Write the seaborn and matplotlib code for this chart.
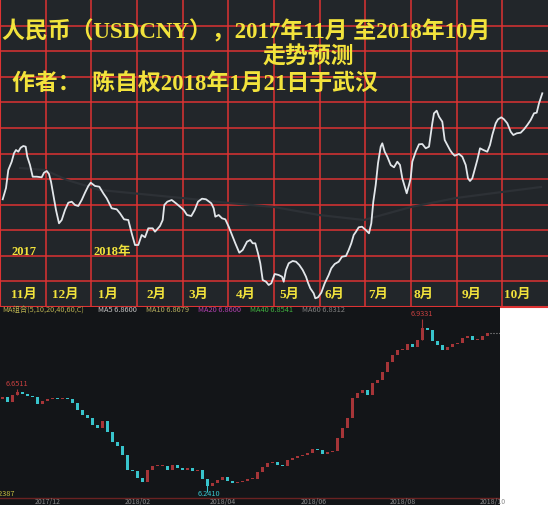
import matplotlib
matplotlib.use('Agg')
import matplotlib.pyplot as plt
import seaborn as sns
import numpy as np

# top panel: forecast line (x along the panel, level above the bottom edge)
line_x = [2.7, 6, 8.3, 11.7, 14, 16, 18.3, 20.7, 23.3, 25.7, 27.3, 30, 32.7, 36.7, 41.7, 44, 46.7, 49, 51, 53.3,
          56, 59, 61.7, 65, 68.3, 71.7, 75, 78.3, 81.7, 85, 88.3, 90.7, 95, 99.3, 103.3, 106.7, 111.7, 116.7, 120, 124,
          128.3, 131.7, 135, 138.3, 141.7, 145, 148.3, 152.7, 155, 160, 162.7, 164.3, 167.3, 171.7, 176, 180, 183.7,
          187, 191.3, 194.7, 198, 202, 206, 211.3, 213.7, 215.3, 218.7, 222, 225.3, 228.7, 232, 235.3, 239.3, 242.7,
          247, 250.3, 252.7, 255.3, 258, 260.3, 262.7, 266, 268.7, 271.3, 274.7, 278.7, 282, 283.7, 286, 288.7, 292.7,
          296, 299.3, 302.7, 306, 308, 310.3, 313.7, 315.3, 318, 321.3, 324.7, 328.7, 331.3, 334.7, 338.7, 342, 346,
          348.7, 351.3, 353.7, 356, 358.7, 362, 365.7, 369, 371.3, 373.3, 375.7, 378, 380.7, 382.3, 384.7, 387.3,
          390.7, 394, 397.3, 400, 402.3, 404.7, 406.7, 409, 410.7, 412.3, 415.7, 419, 422.3, 425.7, 429, 432.3, 434,
          436.7, 439, 442.3, 444.7, 447.3, 450, 452.3, 454.7, 459, 462.3, 465.7, 468, 470, 472.3, 475, 477.3, 480,
          483.3, 487.3, 490, 492.3, 495.7, 498, 501.3, 504, 507.3, 510.7, 513.3, 516.7, 520.7, 524, 527.3, 530.7, 534,
          536.7, 539, 542.3]
line_level = [107.7, 119, 137, 145.3, 153.7, 157, 155.3, 159.3, 161, 160.3, 150.3, 142, 130.3, 130.3, 129.7, 134.3,
              136, 133, 125.3, 112, 97, 83.7, 87, 97, 104.3, 105.3, 102, 101, 107, 114.3, 121, 124.3, 121, 120.3, 113.7,
              108.7, 98.7, 97.7, 93.7, 87.7, 87, 73.7, 62, 62, 72, 69.7, 78.7, 78.7, 75.3, 81, 87, 102, 105.3, 107,
              103.7, 100.3, 97, 92, 91, 97, 105.3, 108.3, 107.7, 103.7, 98.7, 90.3, 92, 88.7, 87.7, 80.3, 72, 63.7,
              54.3, 57, 65.3, 67, 63.7, 63.7, 53.7, 43.7, 27, 25.3, 22, 23.7, 33, 32, 30.3, 25.3, 37, 43.7, 46, 45.3,
              42, 37, 30.3, 24.3, 18.7, 13.7, 8.7, 9.7, 14.3, 23.7, 32, 38.7, 43, 45.3, 50.3, 51, 57, 63.7, 72, 75.3,
              79.7, 80.3, 77, 73.7, 83.7, 105.3, 122, 143.7, 160.3, 163.7, 155.3, 150.3, 142, 139.7, 145.3, 142, 128.7,
              120.3, 113.7, 122, 128.7, 145.3, 155.3, 162.7, 163, 158.7, 160.3, 183.7, 193.7, 196.3, 190.3, 185.3, 167,
              162, 157, 153.7, 151.3, 153, 150.3, 142, 128.7, 126, 128.7, 138.7, 147, 158.7, 157, 155.3, 162, 172,
              183.7, 187.7, 189.7, 187.7, 183.7, 175.3, 172, 173.7, 174.3, 177.7, 182, 187, 193.7, 194.3, 203.7, 213.7]
ma_x = [20, 45, 67, 100, 182, 229, 274, 319, 364, 411, 456, 502, 541]
ma_level = [139, 137, 127, 117, 109, 104, 100, 92, 87, 100, 109, 115, 120]
months = ['11月', '12月', '1月', '2月', '3月', '4月', '5月', '6月', '7月', '8月', '9月', '10月']
month_x = [23.5, 65, 108, 156, 198, 246, 289, 334, 378, 424, 472, 517]

# bottom panel: USDCNY candles (closes), plus the marked extremes
closes = [6.621, 6.600, 6.629, 6.641, 6.633, 6.625, 6.621, 6.592, 6.604, 6.612, 6.617, 6.612, 6.617, 6.612, 6.596,
          6.568, 6.548, 6.536, 6.508, 6.496, 6.524, 6.480, 6.440, 6.424, 6.388, 6.328, 6.324, 6.296, 6.280, 6.328,
          6.344, 6.344, 6.344, 6.328, 6.348, 6.336, 6.328, 6.336, 6.324, 6.328, 6.292, 6.264, 6.276, 6.288, 6.300,
          6.284, 6.276, 6.280, 6.284, 6.292, 6.292, 6.320, 6.340, 6.356, 6.360, 6.348, 6.344, 6.368, 6.376, 6.384,
          6.388, 6.396, 6.412, 6.408, 6.392, 6.400, 6.404, 6.456, 6.496, 6.536, 6.617, 6.637, 6.649, 6.629, 6.677,
          6.689, 6.721, 6.761, 6.789, 6.809, 6.809, 6.833, 6.821, 6.849, 6.897, 6.889, 6.845, 6.829, 6.809, 6.821,
          6.833, 6.837, 6.857, 6.865, 6.849, 6.849, 6.865, 6.877]
first_open = 6.612
mark_idx = [3, 41, 84]
mark_val = [6.6511, 6.2410, 6.9331]
mark_text = ['6.6511', '6.2410', '6.9331']
date_idx = [9.2, 27.2, 44.2, 62.4, 80.2, 98.2]
date_labels = ['2017/12', '2018/02', '2018/04', '2018/06', '2018/08', '2018/10']
ma_names = ['MA组合(5,10,20,40,60,C)', 'MA5 6.8600', 'MA10 6.8679', 'MA20 6.8600', 'MA40 6.8541', 'MA60 6.8312']
ma_colors = ['#b8b050', '#c4c4c4', '#b8b060', '#b040b0', '#40b040', '#808080']
ma_pos = [0.004, 0.196, 0.292, 0.396, 0.5, 0.604]

plt.rcParams['font.family'] = ['Liberation Serif', 'Noto Sans CJK SC', 'DejaVu Sans']
YEL = '#f2e33c'
RED = '#dd3333'
serif = ['Liberation Serif', 'Noto Sans CJK SC']
sans = ['Noto Sans CJK SC', 'DejaVu Sans']

fig = plt.figure(figsize=(5.48, 5.05), dpi=100, facecolor='white')

# ---- top panel ----
ax = fig.add_axes([0, 1 - 307 / 505, 1, 307 / 505])
ax.set_facecolor('#22262a')
ax.set_xlim(0, 548)
ax.set_ylim(0, 307)
ax.set_xticks(np.arange(1, 12) * 548 / 12)
ax.set_yticks(np.arange(1, 12) * 307 / 12)
ax.grid(True, color=RED, lw=1.1)
ax.tick_params(length=0, labelbottom=False, labelleft=False)
for s in ['top', 'right']:
    ax.spines[s].set_visible(False)
for s in ['left', 'bottom']:
    ax.spines[s].set_color(RED)
    ax.spines[s].set_linewidth(1.5)

sns.lineplot(x=ma_x, y=ma_level, ax=ax, color='#2d3136', lw=1.6, sort=False, estimator=None)
sns.lineplot(x=line_x, y=line_level, ax=ax, color='#e2e6ea', lw=1.3, sort=False, estimator=None)

for m, mx in zip(months, month_x):
    ax.text(mx, 12, m, color=YEL, fontsize=9.5, fontweight='bold', family=serif, ha='center', va='center')
ax.text(24.5, 55, '2017', color=YEL, fontsize=9, fontweight='bold', family=serif, ha='center', va='center')
ax.text(112.5, 55, '2018年', color=YEL, fontsize=9, fontweight='bold', family=serif, ha='center', va='center')

ax.text(2, 275, '人民币（USDCNY），2017年11月 至2018年10月', color=YEL, fontsize=16.5, fontweight='bold',
        family=serif, ha='left', va='center')
ax.text(308, 249.5, '走势预测', color=YEL, fontsize=16.5, fontweight='bold', family=serif, ha='center', va='center')
ax.text(12, 223, '作者：  陈自权2018年1月21日于武汉', color=YEL, fontsize=16.5, fontweight='bold',
        family=serif, ha='left', va='center')

# ---- bottom panel: candles ----
bx = fig.add_axes([0, 0, 500 / 548, 198 / 505])
bx.set_facecolor('#131518')
bx.set_xlim(-0.4, 99.6)
bx.set_ylim(6.1876, 6.9812)
bx.set_xticks([])
bx.set_yticks([])
for s in bx.spines.values():
    s.set_visible(False)

opens = [first_open] + closes[:-1]
idx = np.arange(len(closes))
up = np.array(closes) >= np.array(opens)
lo = np.minimum(opens, closes)
hi = np.maximum(opens, closes)
cols = np.where(up, '#a63538', '#38c4cc')
bx.bar(idx, np.maximum(hi - lo, 0.002), bottom=lo, width=0.6, color=cols, linewidth=0)

for i, v, t in zip(mark_idx, mark_val, mark_text):
    bx.vlines(i, min(v, lo[i]), max(v, hi[i]), color=cols[i], lw=0.8)
    if v < 6.4:
        bx.text(i + 0.4, 6.2317, t, color='#38c4cc', fontsize=5.3, family=sans, ha='center', va='center')
    else:
        bx.text(i, v + 0.004, t, color='#c84040', fontsize=5.3, family=sans, ha='center', va='bottom')

bx.hlines(closes[-1], len(closes) - 0.5, 99.6, color='#9a9a9a', lw=0.8, linestyles=':')

for t, c, p in zip(ma_names, ma_colors, ma_pos):
    bx.text(p, 0.985, t, color=c, fontsize=5.3, family=sans, ha='left', va='center', transform=bx.transAxes)

bx.text(2.6, 6.2317, '6.2387', color='#c8c040', fontsize=5.3, family=sans, ha='right', va='center', clip_on=True)
bx.plot([0, 1], [0.035, 0.035], color='#6a2222', lw=1, transform=bx.transAxes)
tr = bx.get_xaxis_transform()
for d, lab in zip(date_idx, date_labels):
    bx.text(d, 0.016, lab, color='#8c8c8c', fontsize=5, family=sans, ha='center', va='center', transform=tr)

fig.savefig('out.png', dpi=100, facecolor='white')
